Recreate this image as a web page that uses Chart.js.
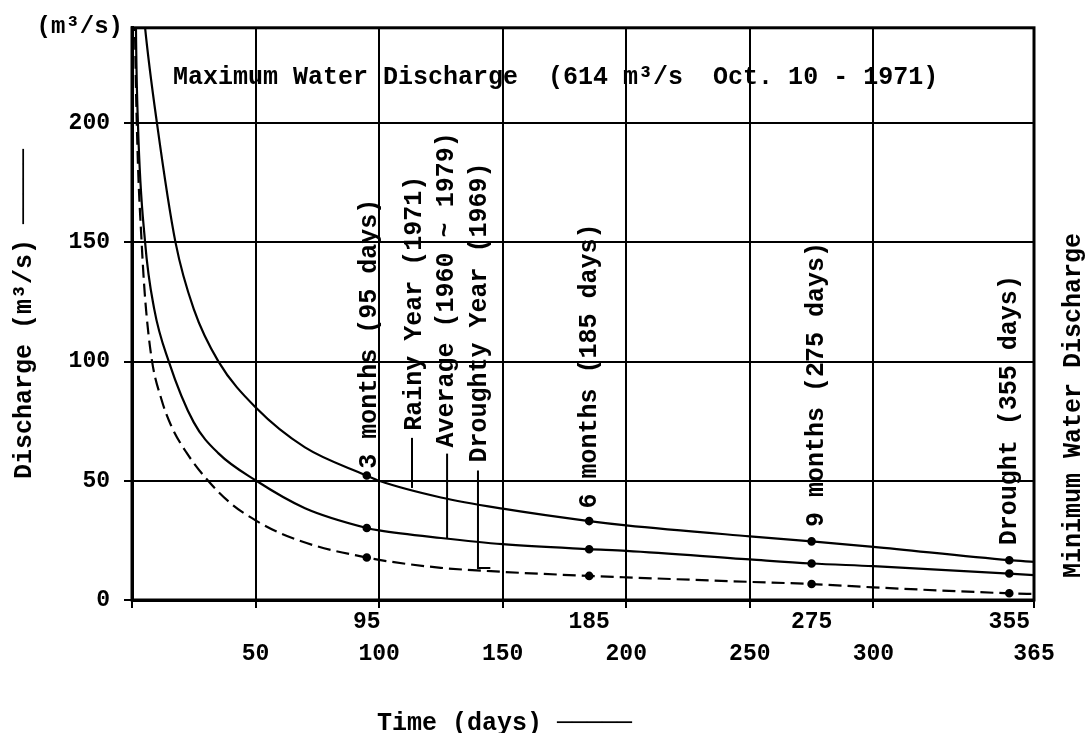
<!DOCTYPE html>
<html>
<head>
<meta charset="utf-8">
<script src="https://cdn.jsdelivr.net/npm/chart.js@4/dist/chart.umd.min.js"></script>
<style>
  html, body { margin: 0; padding: 0; background: #fff; }
  #wrap { width: 1088px; height: 733px; }
</style>
</head>
<body>
<div id="wrap"><canvas id="flowChart" width="1088" height="733"></canvas></div>
<script>
// flow duration curves: day of the year vs discharge (m3/s)
const rainyDays    = [3, 5.3, 10.1, 17.6, 25, 35, 50.3, 70, 95, 100, 125, 150, 185, 200, 250, 275, 300, 355, 365];
const rainyQ       = [268, 240, 200, 150, 122, 100, 80.5, 64, 52.2, 50, 43, 38.3, 33.1, 31.3, 26.7, 24.6, 22.3, 16.7, 16];

const averageDays  = [1, 1.6, 2.4, 5.3, 9, 14.9, 25, 35, 50.3, 70, 95, 100, 125, 150, 185, 200, 250, 275, 300, 355, 365];
const averageQ     = [330, 240, 200, 150, 122, 100, 74.5, 61.5, 50, 38.5, 30.2, 29.2, 26, 23.4, 21.3, 20.6, 17, 15.3, 14.2, 11.1, 10.4];

const droughtyDays = [0.6, 1.2, 2.2, 3.9, 5.3, 8, 11.9, 15.9, 22, 30.8, 40, 50, 60, 75, 95, 100, 125, 150, 185, 200, 250, 275, 300, 355, 365];
const droughtyQ    = [300, 240, 190, 150, 126.6, 100.9, 84.2, 73, 61.9, 50, 40.5, 33.4, 28, 22.5, 17.8, 16.8, 13.5, 11.8, 10.1, 9.5, 7.6, 6.7, 5.3, 2.8, 2.5];

const markerDays = [95, 185, 275, 355];
const gridDays   = [0, 50, 100, 150, 200, 250, 300, 365];
const lowerTicks = [50, 100, 150, 200, 250, 300, 365];
const yTicks     = [0, 50, 100, 150, 200];

const FONT = "'Liberation Mono', 'DejaVu Sans Mono', monospace";

function pts(ds, qs) {
    return ds.map(function (d, i) { return { x: d, y: qs[i] }; });
}

function markerRadius(ctx) {
    return ctx.raw && markerDays.indexOf(ctx.raw.x) >= 0 ? 3.2 : 0;
}

// rotated notes on the plot, in data units (start of text = bottom)
const notes = [
    { text: '3 months (95 days)',    x: 96.3,  y: 55 },
    { text: 'Rainy Year (1971)',     x: 114.5, y: 71 },
    { text: 'Average (1960 ~ 1979)', x: 127.3, y: 64 },
    { text: 'Droughty Year (1969)',  x: 140.8, y: 57.7 },
    { text: '6 months (185 days)',   x: 185.3, y: 38.4 },
    { text: '9 months (275 days)',   x: 277,   y: 30.6 },
    { text: 'Drought (355 days)',    x: 355,   y: 23 },
    { text: 'Minimum Water Discharge', x: 381, y: 9.2 }
];
const leaders = [
    [[113.3, 68], [113.3, 47]],
    [[127.5, 61.4], [127.5, 25.9]],
    [[140, 54.3], [140, 13.4], [145, 13.4]]
];

const textPlugin = {
    id: 'textPlugin',
    afterDraw(chart) {
        const ctx = chart.ctx;
        const xs = chart.scales.x, ys = chart.scales.y;
        const area = chart.chartArea;
        ctx.save();
        // frame
        ctx.strokeStyle = '#000';
        ctx.lineWidth = 3;
        ctx.strokeRect(area.left, area.top, area.right - area.left, area.bottom - area.top);

        ctx.fillStyle = '#000';
        ctx.font = 'bold 25px ' + FONT;
        ctx.textBaseline = 'middle';

        // max discharge note
        ctx.textAlign = 'left';
        ctx.fillText('Maximum Water Discharge  (614 m\u00b3/s  Oct. 10 - 1971)',
            xs.getPixelForValue(16.6), ys.getPixelForValue(219));

        // unit at top of the y axis
        ctx.font = 'bold 24px ' + FONT;
        ctx.textAlign = 'right';
        ctx.fillText('(m\u00b3/s)', area.left - 9, 27);

        // x axis title
        ctx.font = 'bold 25px ' + FONT;
        ctx.textAlign = 'left';
        ctx.fillText('Time (days) \u2500\u2500\u2500\u2500\u2500', 377, 724);

        // rotated notes
        notes.forEach(function (n) {
            ctx.save();
            ctx.translate(xs.getPixelForValue(n.x), ys.getPixelForValue(n.y));
            ctx.rotate(-Math.PI / 2);
            ctx.textAlign = 'left';
            ctx.fillText(n.text, 0, 0);
            ctx.restore();
        });

        // leader lines
        ctx.lineWidth = 2;
        leaders.forEach(function (l) {
            ctx.beginPath();
            l.forEach(function (p, i) {
                const px = xs.getPixelForValue(p[0]), py = ys.getPixelForValue(p[1]);
                if (i === 0) ctx.moveTo(px, py); else ctx.lineTo(px, py);
            });
            ctx.stroke();
        });
        ctx.restore();
    }
};

const tickFont = { family: FONT, size: 23, weight: 'bold' };

new Chart(document.querySelector('#flowChart').getContext('2d'), {
    type: 'line',
    data: {
        datasets: [{
            label: 'Rainy Year (1971)',
            data: pts(rainyDays, rainyQ),
            borderColor: '#000',
            backgroundColor: '#000',
            borderWidth: 2.2,
            cubicInterpolationMode: 'monotone',
            pointRadius: markerRadius,
            fill: false
        }, {
            label: 'Average (1960 ~ 1979)',
            data: pts(averageDays, averageQ),
            borderColor: '#000',
            backgroundColor: '#000',
            borderWidth: 2.2,
            cubicInterpolationMode: 'monotone',
            pointRadius: markerRadius,
            fill: false
        }, {
            label: 'Droughty Year (1969)',
            data: pts(droughtyDays, droughtyQ),
            borderColor: '#000',
            backgroundColor: '#000',
            borderWidth: 2.2,
            borderDash: [13, 6],
            cubicInterpolationMode: 'monotone',
            pointRadius: markerRadius,
            fill: false
        }]
    },
    options: {
        responsive: false,
        devicePixelRatio: 1,
        animation: false,
        events: [],
        layout: { padding: { left: 0, right: 54, top: 25, bottom: 0 } },
        plugins: {
            legend: { display: false },
            tooltip: { enabled: false }
        },
        scales: {
            x: {
                type: 'linear',
                min: 0, max: 365,
                weight: 0,
                afterBuildTicks: function (s) { s.ticks = gridDays.map(function (v) { return { value: v }; }); },
                afterFit: function (s) { s.height = 8; },
                ticks: { display: false },
                grid: { color: '#000', lineWidth: 2, tickLength: 8 },
                border: { color: '#000', width: 3 }
            },
            x2: {
                type: 'linear',
                position: 'bottom',
                min: 0, max: 365,
                weight: 1,
                afterBuildTicks: function (s) { s.ticks = markerDays.map(function (v) { return { value: v }; }); },
                afterFit: function (s) { s.height = 30; },
                ticks: { color: '#000', font: tickFont, padding: 0, maxRotation: 0, autoSkip: false },
                grid: { display: false, drawTicks: false },
                border: { display: false }
            },
            x3: {
                type: 'linear',
                position: 'bottom',
                min: 0, max: 365,
                weight: 2,
                afterBuildTicks: function (s) { s.ticks = lowerTicks.map(function (v) { return { value: v }; }); },
                afterFit: function (s) { s.height = 95; },
                ticks: { color: '#000', font: tickFont, padding: 2, maxRotation: 0, autoSkip: false },
                grid: { display: false, drawTicks: false },
                border: { display: false }
            },
            y: {
                min: 0, max: 240,
                afterBuildTicks: function (s) { s.ticks = yTicks.map(function (v) { return { value: v }; }); },
                afterFit: function (s) { s.width = 132; },
                ticks: { color: '#000', font: tickFont, padding: 14 },
                grid: { color: '#000', lineWidth: 2, tickLength: 8 },
                border: { color: '#000', width: 3 },
                title: {
                    display: true,
                    text: 'Discharge (m\u00b3/s) \u2500\u2500\u2500\u2500\u2500',
                    color: '#000',
                    font: { family: FONT, size: 25, weight: 'bold' },
                    padding: { top: 10, bottom: 0 }
                }
            }
        }
    },
    plugins: [textPlugin]
});
</script>
</body>
</html>
